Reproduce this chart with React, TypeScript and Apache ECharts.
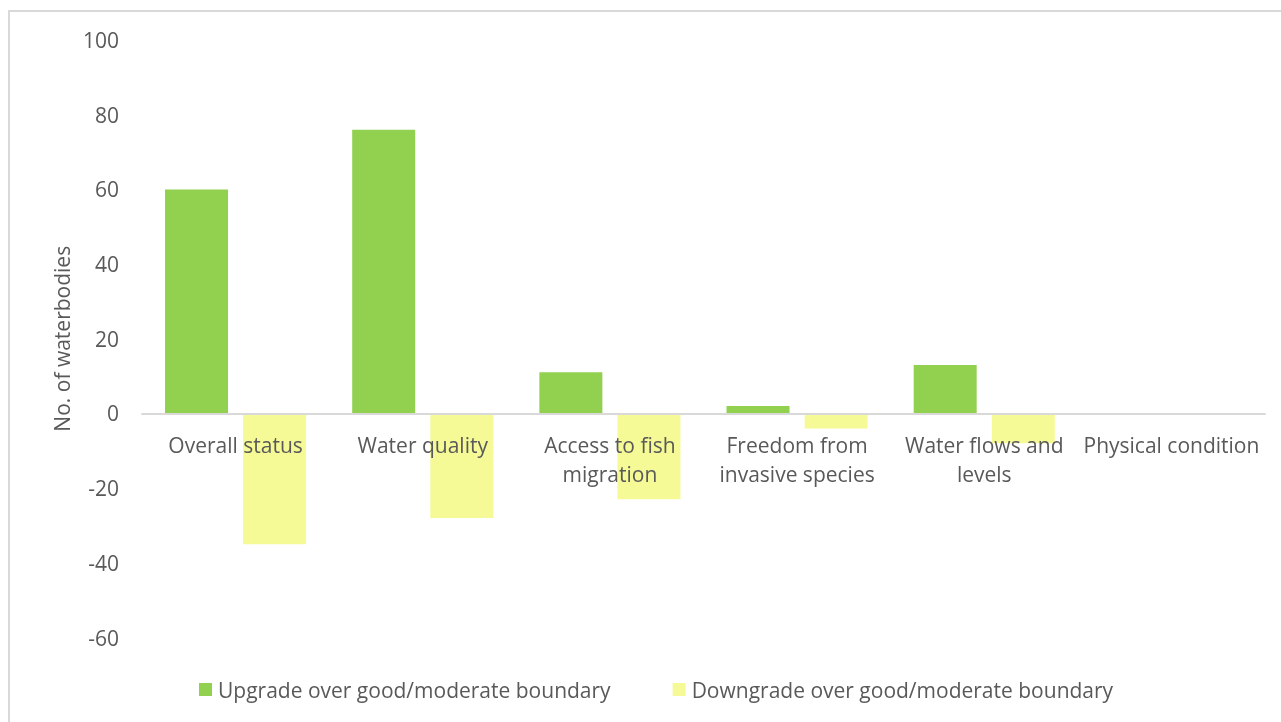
import React, { useEffect, useRef } from "react";
import * as echarts from "echarts";

const categories = [
  "Overall status",
  "Water quality",
  "Access to fish\nmigration",
  "Freedom from\ninvasive species",
  "Water flows and\nlevels",
  "Physical condition",
];
const upgradeValues = [60, 76, 11, 2, 13, 0];
const downgradeValues = [-35, -28, -23, -4, -8, 0];
const seriesNames = [
  "Upgrade over good/moderate boundary",
  "Downgrade over good/moderate boundary",
];
const yTicks = { min: -60, max: 100, interval: 20 };

const FONT = "'Open Sans', 'Noto Sans', sans-serif";
const TEXT = "#595959";

const HEIGHT = 722;
const GRID_TOP = 40;
const GRID_BOTTOM = 84.5;

export default function App() {
  const ref = useRef<HTMLDivElement>(null);
  useEffect(() => {
    if (!ref.current) return;
    const chart = echarts.init(ref.current, undefined, { renderer: "svg" });
    const plotH = HEIGHT - GRID_TOP - GRID_BOTTOM;
    const zeroOffset = -plotH * (0 - yTicks.min) / (yTicks.max - yTicks.min);
    chart.setOption({
      animation: false,
      backgroundColor: "transparent",
      textStyle: { fontFamily: FONT, color: TEXT },
      grid: { left: 142, right: 16, top: GRID_TOP, bottom: GRID_BOTTOM, containLabel: false },
      legend: {
        left: 194,
        top: 674,
        itemWidth: 13,
        itemHeight: 13,
        itemGap: 62,
        icon: "rect",
        textStyle: { fontFamily: FONT, fontSize: 21, color: TEXT, padding: [0, 0, 0, 1] },
        data: seriesNames,
      },
      xAxis: {
        type: "category",
        data: categories,
        offset: zeroOffset,
        z: 5,
        axisLine: { show: true, onZero: false, lineStyle: { color: "#D9D9D9", width: 2 } },
        axisTick: { show: false },
        axisLabel: {
          interval: 0,
          margin: 17,
          fontFamily: FONT,
          fontSize: 21,
          lineHeight: 29,
          color: TEXT,
        },
      },
      yAxis: {
        type: "value",
        min: yTicks.min,
        max: yTicks.max,
        interval: yTicks.interval,
        splitLine: { show: false },
        axisLine: { show: false },
        axisTick: { show: false },
        axisLabel: { margin: 23, fontFamily: FONT, fontSize: 21, color: TEXT },
        name: "No. of waterbodies",
        nameLocation: "middle",
        nameRotate: 90,
        nameGap: 67,
        nameTextStyle: { fontFamily: FONT, fontSize: 21, color: TEXT },
      },
      series: [
        {
          name: seriesNames[0],
          type: "bar",
          data: upgradeValues,
          barWidth: 63,
          barGap: "24%",
          z: 1,
          itemStyle: { color: "#92D050" },
        },
        {
          name: seriesNames[1],
          type: "bar",
          data: downgradeValues,
          barWidth: 63,
          barGap: "24%",
          z: 1,
          itemStyle: { color: "#F5FA96" },
        },
      ],
    });
    return () => chart.dispose();
  }, []);
  return (
    <>
      <div
        style={{
          position: "fixed",
          left: 8,
          top: 10,
          width: 1400,
          height: 800,
          borderLeft: "2px solid #D9D9D9",
          borderTop: "2px solid #D9D9D9",
          boxSizing: "border-box",
        }}
      />
      <div ref={ref} style={{ position: "fixed", left: 0, top: 0, width: 1281, height: HEIGHT }} />
    </>
  );
}
